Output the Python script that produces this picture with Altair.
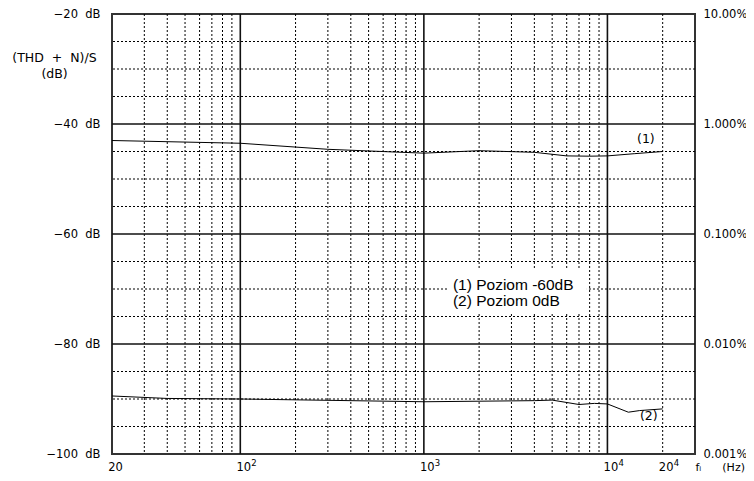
import altair as alt
import pandas as pd

# ---- data ----
freq1 = [20, 100, 300, 700, 1000, 2000, 4000, 6000, 8000, 10000, 14000, 20000]
db1 = [-43.0, -43.5, -44.6, -45.1, -45.3, -44.85, -45.15, -45.8, -45.85, -45.8, -45.4, -45.0]
freq2 = [20, 40, 100, 1000, 4000, 5000, 7000, 8500, 10000, 13000, 15000, 20000]
db2 = [-89.45, -89.9, -90.0, -90.5, -90.3, -90.2, -91.0, -90.8, -90.9, -92.4, -92.1, -91.8]

x_minor = [30, 40, 50, 60, 70, 80, 90, 200, 300, 400, 500, 600, 700, 800, 900,
           2000, 3000, 4000, 5000, 6000, 7000, 8000, 9000, 20000]
x_major = [100, 1000, 10000]
y_minor = [-25, -30, -35, -45, -50, -55, -65, -70, -75, -85, -90, -95]
y_major = [-40, -60, -80]

x_ticks = [20, 100, 1000, 10000, 20000]
x_labels = ["20", "10", "10", "10", "20"]
x_exp_f = [100, 1000, 10000, 20000]
x_exp = ["2", "3", "4", "4"]
y_ticks = [-20, -40, -60, -80, -100]
y_left_labels = ["−20\u00a0\u00a0dB", "−40\u00a0\u00a0dB", "−60\u00a0\u00a0dB", "−80\u00a0\u00a0dB", "−100\u00a0\u00a0dB"]
y_right_labels = ["10.00%", "1.000%", "0.100%", "0.010%", "0.001%"]

curve_tags = ["(1)", "(2)"]
curve_tag_f = [16200, 16800]
curve_tag_d = [-42.7, -93.1]

legend_lines = ["(1) Poziom -60dB", "(2) Poziom 0dB"]
legend_f = [1440, 1440]
legend_d = [-69.2, -72.1]
legend_box_f = [1352, 7730]
legend_box_d = [-66.5, -74.2]


def label_expr(vals, labels):
    expr = "''"
    for v, l in reversed(list(zip(vals, labels))):
        expr = f"datum.value == {v} ? '{l}' : " + expr
    return expr


FONT = "DejaVu Sans"
xs = alt.Scale(type="log", domain=[20, 30000], nice=False)
ys = alt.Scale(domain=[-100, -20], nice=False, zero=False)

x_axis = alt.Axis(values=x_ticks, labelExpr=label_expr(x_ticks, x_labels), grid=False,
                  ticks=False, tickSize=0, domain=False, labelPadding=7, labelFont=FONT,
                  labelFontSize=11.5, labelColor="black", labelAngle=0, labelFlush=False,
                  labelOverlap=False, labelOffset=3,
                  title="f\u1d62\u00a0\u00a0\u00a0\u00a0\u00a0\u00a0(Hz)", titleX=583, titleY=13,
                  titleAlign="left", titleBaseline="middle", titleFontWeight="normal",
                  titleFont=FONT, titleFontSize=11, titleColor="black")

y_left_axis = alt.Axis(values=y_ticks, labelExpr=label_expr(y_ticks, y_left_labels), grid=False,
                       ticks=False, tickSize=0, domain=False, labelPadding=12, labelFont=FONT,
                       labelFontSize=11.5, labelColor="black", labelFlush=False, labelOverlap=False,
                       title=["(THD\u00a0\u00a0+\u00a0\u00a0N)/S", "(dB)"], titleAngle=0, titleX=-58,
                       titleY=37, titleAlign="center", titleBaseline="top", titleFontWeight="normal",
                       titleFont=FONT, titleFontSize=12.5, titleLineHeight=16, titleColor="black")

y_right_axis = alt.Axis(orient="right", values=y_ticks, labelExpr=label_expr(y_ticks, y_right_labels),
                        grid=False, ticks=False, tickSize=0, domain=False, labelPadding=8,
                        labelFont=FONT, labelFontSize=11.5, labelColor="black", labelAlign="left",
                        labelFlush=False, labelOverlap=False, title=None)

vminor = alt.Chart(pd.DataFrame({"f": x_minor})).mark_rule(
    color="black", strokeWidth=1, strokeDash=[2, 2]).encode(
    x=alt.X("f:Q", scale=xs, axis=None))
hminor = alt.Chart(pd.DataFrame({"d": y_minor})).mark_rule(
    color="black", strokeWidth=1, strokeDash=[2, 2]).encode(
    y=alt.Y("d:Q", scale=ys, axis=None))
vmajor = alt.Chart(pd.DataFrame({"f": x_major})).mark_rule(
    color="#111", strokeWidth=1.6).encode(
    x=alt.X("f:Q", scale=xs, axis=None))
hmajor = alt.Chart(pd.DataFrame({"d": y_major})).mark_rule(
    color="#111", strokeWidth=1.6).encode(
    y=alt.Y("d:Q", scale=ys, axis=y_right_axis))

line1 = alt.Chart(pd.DataFrame({"f": freq1, "d": db1})).mark_line(
    color="black", strokeWidth=1).encode(
    x=alt.X("f:Q", scale=xs, axis=x_axis),
    y=alt.Y("d:Q", scale=ys, axis=y_left_axis))
line2 = alt.Chart(pd.DataFrame({"f": freq2, "d": db2})).mark_line(
    color="black", strokeWidth=1).encode(
    x=alt.X("f:Q", scale=xs, axis=None),
    y=alt.Y("d:Q", scale=ys, axis=None))

exps = alt.Chart(pd.DataFrame({"f": x_exp_f, "t": x_exp})).mark_text(
    font=FONT, fontSize=8.5, color="black", align="left", baseline="middle", dx=11).encode(
    x=alt.X("f:Q", scale=xs, axis=None),
    y=alt.value(449),
    text="t:N")

tags = alt.Chart(pd.DataFrame({"f": curve_tag_f, "d": curve_tag_d, "t": curve_tags})).mark_text(
    font=FONT, fontSize=12.5, color="black", align="center", baseline="middle").encode(
    x=alt.X("f:Q", scale=xs, axis=None),
    y=alt.Y("d:Q", scale=ys, axis=None),
    text="t:N")

box = alt.Chart(pd.DataFrame({"f1": [legend_box_f[0]], "f2": [legend_box_f[1]],
                              "d1": [legend_box_d[0]], "d2": [legend_box_d[1]]})).mark_rect(
    color="white", opacity=1).encode(
    x=alt.X("f1:Q", scale=xs, axis=None), x2="f2:Q",
    y=alt.Y("d1:Q", scale=ys, axis=None), y2="d2:Q")

legend = alt.Chart(pd.DataFrame({"f": legend_f, "d": legend_d, "t": legend_lines})).mark_text(
    font="Liberation Sans", fontSize=15.5, color="black", align="left", baseline="middle").encode(
    x=alt.X("f:Q", scale=xs, axis=None),
    y=alt.Y("d:Q", scale=ys, axis=None),
    text="t:N")

chart = alt.layer(vminor, hminor, vmajor, hmajor, line1, line2, exps, tags, box, legend).resolve_axis(
    x="independent", y="independent").properties(
    width=583, height=440,
    autosize=alt.AutoSizeParams(type="none"),
    padding={"left": 104, "top": 6, "right": 51, "bottom": 20},
    background="white",
).configure_view(stroke="#333", strokeWidth=2)

chart.save("out.html", embed_options={"renderer": "svg", "actions": False})
